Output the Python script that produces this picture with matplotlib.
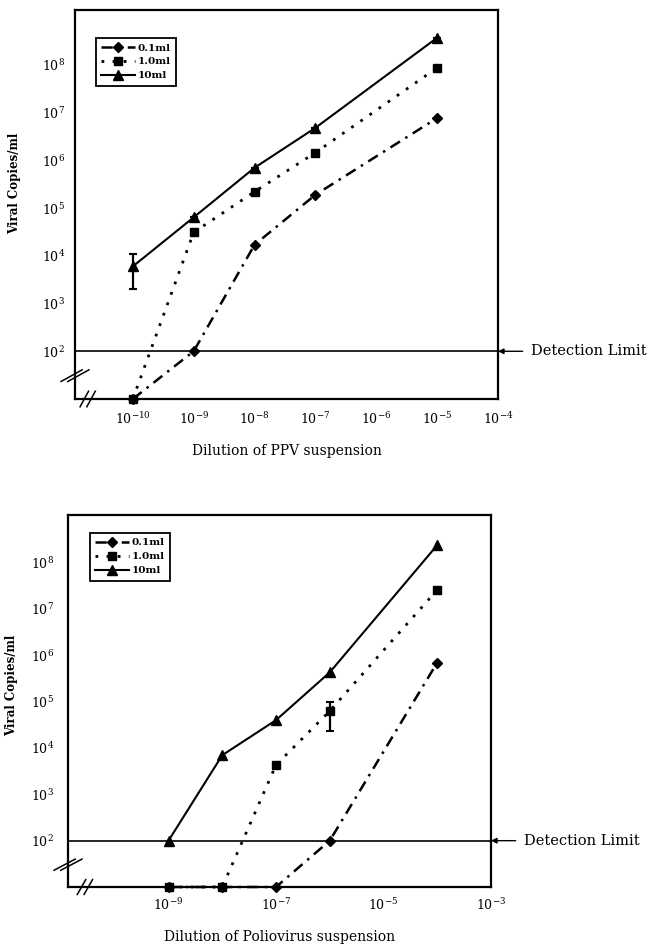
import matplotlib
matplotlib.use("Agg")
import matplotlib.pyplot as plt

plt.rcParams['font.family'] = ['DejaVu Serif']
plt.rcParams['mathtext.fontset'] = 'dejavuserif'

# ---------------- data ----------------
# values below detection are drawn on the axis floor (10)
series_labels = ["0.1ml", "1.0ml", "10ml"]

ppv_dilution = [1e-10, 1e-9, 1e-8, 1e-7, 1e-5]
ppv_01 = [10, 100, 1.7e4, 1.9e5, 7.7e6]
ppv_10 = [10, 3.1e4, 2.2e5, 1.45e6, 8.7e7]
ppv_100 = [6.0e3, 6.4e4, 7.0e5, 4.8e6, 3.7e8]
ppv_err_lo = [4.0e3, 0, 0, 0, 0]
ppv_err_hi = [4.7e3, 0, 0, 0, 0]

polio_dilution = [1e-9, 1e-8, 1e-7, 1e-6, 1e-4]
polio_01 = [10, 10, 10, 100, 7.0e5]
polio_10 = [10, 10, 4.3e3, 6.3e4, 2.6e7]
polio_100 = [100, 7.0e3, 4.0e4, 4.3e5, 2.4e8]
polio_err_lo = [0, 0, 0, 4.0e4, 0]
polio_err_hi = [0, 0, 0, 3.5e4, 0]

detection_limit = 100
ppv_xticks = [1e-10, 1e-9, 1e-8, 1e-7, 1e-6, 1e-5, 1e-4]
ppv_xticklabels = ["10$^{-10}$", "10$^{-9}$", "10$^{-8}$", "10$^{-7}$",
                   "10$^{-6}$", "10$^{-5}$", "10$^{-4}$"]
polio_xticks = [1e-9, 1e-7, 1e-5, 1e-3]
polio_xticklabels = ["10$^{-9}$", "10$^{-7}$", "10$^{-5}$", "10$^{-3}$"]
yticks = [1e2, 1e3, 1e4, 1e5, 1e6, 1e7, 1e8]
yticklabels = ["10$^{2}$", "10$^{3}$", "10$^{4}$", "10$^{5}$",
               "10$^{6}$", "10$^{7}$", "10$^{8}$"]

# ---------------- figure ----------------
fig = plt.figure(figsize=(6.66, 9.48), dpi=100)
W, H = 666, 948


def make_ax(l, t, r, b):
    return fig.add_axes([l / W, 1 - b / H, (r - l) / W, (b - t) / H])


ax1 = make_ax(75, 10, 498, 399)
ax2 = make_ax(68, 515, 491, 887)

styles = [
    dict(marker='D', ms=5.5, ls=(0, (4.5, 2.5, 1, 2.5)), lw=1.8),
    dict(marker='s', ms=6, ls=(0, (1, 3)), lw=2.0),
    dict(marker='^', ms=7, ls='-', lw=1.5),
]


def draw(ax, x, ys, err_lo, err_hi, err_idx, xlim, ylim, xt, xtl, xlabel,
         legend_xy, ylabel_xy, xlabel_y, xpad, ypad, break_x):
    handles = []
    for y, st, lab in zip(ys, styles, series_labels):
        h, = ax.plot(x, y, color='black', mfc='black', mec='black',
                     clip_on=False, zorder=3, label=lab, **st)
        handles.append(h)
    ax.errorbar(x, ys[err_idx], yerr=[err_lo, err_hi], fmt='none',
                ecolor='black', elinewidth=1.6, capsize=3, capthick=1.5,
                zorder=3)
    ax.axhline(detection_limit, color='black', lw=1.2, zorder=2)
    ax.set_xscale('log')
    ax.set_yscale('log')
    ax.set_xlim(*xlim)
    ax.set_ylim(*ylim)
    ax.set_xticks(xt)
    ax.set_xticklabels(xtl)
    ax.set_yticks(yticks)
    ax.set_yticklabels(yticklabels)
    ax.minorticks_off()
    ax.tick_params(axis='x', length=0, pad=xpad, labelsize=9)
    ax.tick_params(axis='y', length=0, pad=ypad, labelsize=9)
    for s in ax.spines.values():
        s.set_linewidth(1.6)
    ax.set_ylabel("Viral Copies/ml", fontsize=8.5, fontweight='bold')
    ax.yaxis.set_label_coords(*ylabel_xy)
    ax.set_xlabel(xlabel, fontsize=10)
    ax.xaxis.set_label_coords(0.5, xlabel_y)
    leg = ax.legend(handles=handles, loc='upper left',
                    bbox_to_anchor=legend_xy, frameon=True, fancybox=False,
                    edgecolor='black', prop=dict(size=7.5, weight='bold'),
                    handlelength=3.2, borderpad=0.5, labelspacing=0.45,
                    handletextpad=0.3, borderaxespad=0)
    leg.get_frame().set_linewidth(1.3)
    leg.get_frame().set_alpha(1)
    ax.annotate("Detection Limit", xy=(1.0, detection_limit),
                xycoords=('axes fraction', 'data'),
                xytext=(1.078, detection_limit),
                textcoords=('axes fraction', 'data'),
                ha='left', va='center', fontsize=10.5,
                arrowprops=dict(arrowstyle='-|>', color='black', lw=1.0,
                                mutation_scale=8, shrinkA=4, shrinkB=0,
                                relpos=(0, 0.5)),
                annotation_clip=False)
    # axis-break marks
    kw = dict(transform=ax.transAxes, color='black', lw=1.1, clip_on=False)
    for dx in (-0.008, 0.008):
        ax.plot([-0.025 + dx, 0.025 + dx], [0.045, 0.075], **kw)
        ax.plot([break_x - 0.01 + dx, break_x + 0.01 + dx], [-0.02, 0.02], **kw)


draw(ax1, ppv_dilution, [ppv_01, ppv_10, ppv_100],
     ppv_err_lo, ppv_err_hi, 2,
     (10 ** -10.95, 1e-4), (10, 10 ** 9.15),
     ppv_xticks, ppv_xticklabels, "Dilution of PPV suspension",
     (0.05, 0.928), (-0.128, 0.555), -0.115, 9, 7, 0.03)

draw(ax2, polio_dilution, [polio_01, polio_10, polio_100],
     polio_err_lo, polio_err_hi, 1,
     (10 ** -10.87, 1e-3), (10, 10 ** 9.03),
     polio_xticks, polio_xticklabels, "Dilution of Poliovirus suspension",
     (0.052, 0.952), (-0.118, 0.543), -0.115, 7, 10, 0.04)

fig.savefig("out.png", dpi=100)
